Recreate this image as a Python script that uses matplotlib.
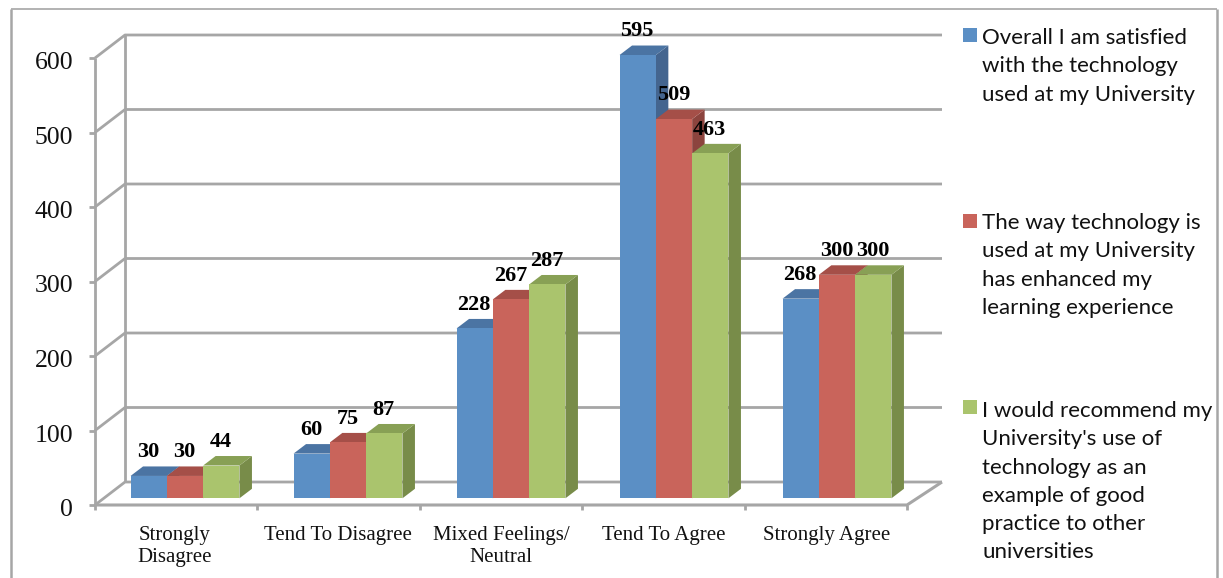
import matplotlib
matplotlib.use('Agg')
import matplotlib.pyplot as plt
from matplotlib.patches import Polygon, Rectangle
from matplotlib.transforms import Affine2D

categorias = ['Strongly\nDisagree', 'Tend To Disagree', 'Mixed Feelings/\nNeutral', 'Tend To Agree', 'Strongly Agree']
satisfied = [30, 60, 228, 595, 268]
enhanced = [30, 75, 267, 509, 300]
recommend = [44, 87, 287, 463, 300]
ticks_y = [0, 100, 200, 300, 400, 500, 600]

leyenda_1 = ['Overall I am satisfied', 'with the technology', 'used at my University']
leyenda_2 = ['The way technology is', 'used at my University', 'has enhanced my', 'learning experience']
leyenda_3 = ['I would recommend my', "University's use of", 'technology as an', 'example of good', 'practice to other', 'universities']

W, H = 1223, 578
GRIS = '#a6a6a6'
SERIF = 'Liberation Serif'

fig = plt.figure(figsize=(W / 100, H / 100), dpi=100)
ax = fig.add_axes([0, 0, 1, 1])
ax.axis('off')

# x: 1 categoria = 163 px, centro de la primera en 185 px; y: 0.745 px por unidad, 0 en 505 px
ax.set_xlim(-185 / 163, (W - 185) / 163)
ax.set_ylim(-(H - 505) / 0.745, 505 / 0.745)

# coordenadas en pixeles desde arriba a la izquierda, para marco y decoracion
pix = Affine2D().scale(1, -1).translate(0, H)


def linea(xs, ys, lw=2.0, color=GRIS, z=1):
    ax.plot(xs, ys, color=color, lw=lw, transform=pix, zorder=z, solid_capstyle='butt')


# marco exterior
linea([11, 11], [9, H], lw=1.8)
linea([11, 1217], [9, 9], lw=1.2)
linea([1217, 1217], [9, H], lw=1.8)

# paredes y cuadricula
for v in ticks_y:
    yf = 505 - v * 0.745
    linea([95, 125, 942], [yf, yf - 23, yf - 23])
    linea([89, 95], [yf, yf])
linea([95, 95], [58, 505])
linea([125, 125], [35, 482])
linea([95, 907, 942], [505, 505, 482], lw=2.2)
for i in range(6):
    x = 95 + i * 162.4
    linea([x, x], [505, 510])

# barras con cara superior y lateral
series = [
    (satisfied, '#5b8fc5', '#4b74a3', '#44658f', -1),
    (enhanced, '#c9645b', '#a54f48', '#8c443e', 0),
    (recommend, '#aac46d', '#88a055', '#788c49', 1),
]
ancho = 36.3 / 163
dx = 12.5 / 163
dy = 9.5 / 0.745
base = 9

for valores, frente, arriba, lado, pos in series:
    for i, v in enumerate(valores):
        izq = i + pos * ancho - ancho / 2
        der = izq + ancho
        top = base + v
        ax.add_patch(Polygon([(der, base), (der + dx, base + dy), (der + dx, top + dy), (der, top)],
                             color=lado, lw=0, zorder=3 + i + pos * 0.1))
        ax.add_patch(Polygon([(izq, top), (izq + dx, top + dy), (der + dx, top + dy), (der, top)],
                             color=arriba, lw=0, zorder=3 + i + pos * 0.1))
        ax.add_patch(Rectangle((izq, base), ancho, top - base, color=frente, lw=0, zorder=3 + i + pos * 0.1 + 0.01))

for valores, frente, arriba, lado, pos in series:
    for i, v in enumerate(valores):
        ax.text(i + pos * ancho - 0.004, v + 41, str(v), ha='center', va='center', family=SERIF,
                fontweight='bold', fontsize=16, color='black', zorder=20)

# textos de los ejes
for v in ticks_y:
    ax.text(73, 510 - v * 0.745, str(v), ha='right', va='center', family=SERIF, fontsize=18.5,
            color='#111111', transform=pix)
for i, c in enumerate(categorias):
    ax.text(i - 0.062, -28, c, ha='center', va='top', family=SERIF, fontsize=15, color='#111111',
            linespacing=1.2)

# leyenda
bloques = [
    (leyenda_1, series[0][1], 28, 38),
    (leyenda_2, series[1][1], 214, 223),
    (leyenda_3, series[2][1], 400, 411),
]
for lineas, color, y_marca, y_texto in bloques:
    ax.add_patch(Rectangle((963, y_marca), 14, 14, color=color, lw=0, transform=pix))
    for j, t in enumerate(lineas):
        ax.text(982, y_texto + j * 28.3, t, ha='left', va='center', family='Lato', fontsize=16,
                color='#111111', transform=pix)

fig.savefig('out.png', dpi=100)
